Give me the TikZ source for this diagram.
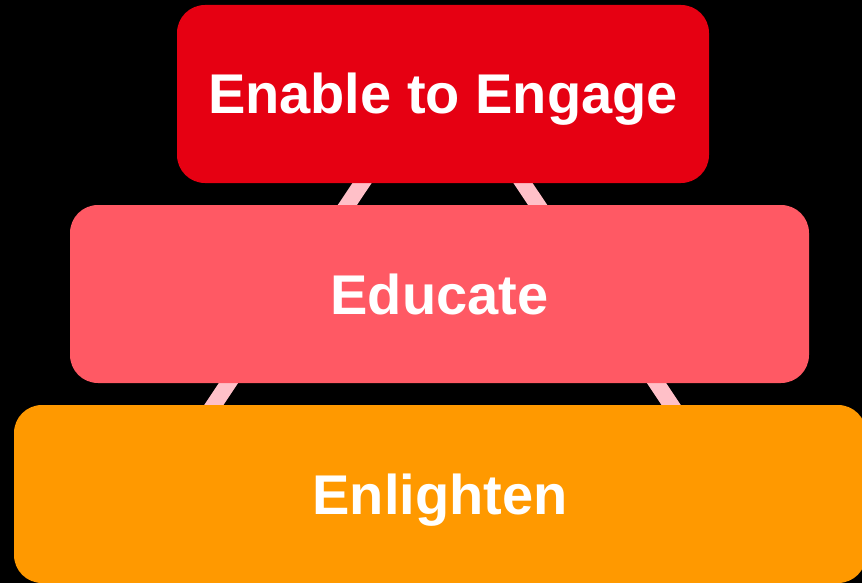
\documentclass[tikz,border=0pt]{standalone}
\usepackage{fontspec}
\setmainfont{Liberation Sans}
\usepackage{tikz}
\definecolor{engagered}{RGB}{230,0,18}
\definecolor{educatepink}{RGB}{255,89,100}
\definecolor{enlightenorange}{RGB}{255,153,0}
\definecolor{framepink}{RGB}{255,192,200}

\begin{document}
\begin{tikzpicture}[x=1pt,y=-1pt,
    tier/.style={rounded corners=28pt, inner sep=0pt, minimum height=178pt,
        text=white, font=\bfseries\fontsize{56}{60}\selectfont,
        text height=40pt, text depth=0pt}]

\fill[black] (0,0) rectangle (862,583);
\useasboundingbox (0,0) rectangle (862,583);

% triangle behind the tiers
\coordinate (apex) at (442.5,62.5);
\coordinate (baseL) at (95,583);
\coordinate (baseR) at (790,583);
\draw[framepink, line width=16pt] (baseL) -- (apex) -- (baseR);

\node[tier, fill=engagered, minimum width=532pt] (engage) at (443,94)%
{Enable to Engage};
\node[tier, fill=educatepink, minimum width=739pt] (educate) at (439.5,294)%
{Educate};
\node[tier, fill=enlightenorange, minimum width=852pt] (enlighten) at (440,494)%
{Enlighten};

\end{tikzpicture}
\end{document}
